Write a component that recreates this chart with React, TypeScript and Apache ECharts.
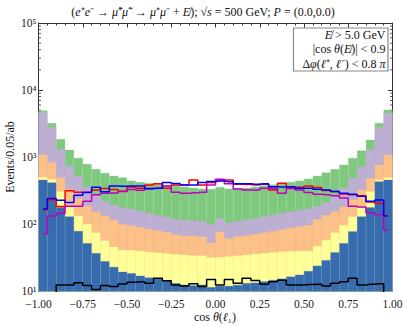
import React, { useEffect, useRef } from "react";
import * as echarts from "echarts";

// 40 bins of cos(theta) from -1 to 1 (width 0.05)
const binCenters: string[] = Array.from({ length: 40 }, (_, i) => (-0.975 + 0.05 * i).toFixed(3));
const xTickValues = [-1, -0.75, -0.5, -0.25, 0, 0.25, 0.5, 0.75, 1];
const xTickLabels = ["−1.00", "−0.75", "−0.50", "−0.25", "0.00", "0.25", "0.50", "0.75", "1.00"];
const yTickValues = [10, 100, 1000, 10000, 100000];
const yTickLabels = ["10¹", "10²", "10³", "10⁴", "10⁵"];

// Stacked histogram, cumulative heights (top of each layer), events / 0.05 / ab
const greenTop = [4950, 3214, 1858, 1285, 966, 787, 663, 577, 526, 496, 445, 425, 410, 395, 385, 375, 362, 348, 338, 335, 358, 338, 345, 350, 362, 375, 390, 405, 425, 445, 474, 526, 589, 663, 767, 966, 1255, 1812, 3214, 5080];
const purpleTop = [4630, 2806, 1315, 741, 520, 360, 275, 222, 195, 178, 168, 158, 146, 137, 128, 118, 115, 114, 112, 100, 123, 106, 111, 117, 121, 130, 138, 146, 154, 163, 170, 185, 210, 255, 345, 486, 725, 1285, 2806, 4540];
const orangeTop = [1081, 835, 496, 333, 241, 187, 154, 134, 116, 100, 95, 90, 85, 80, 76, 70, 67, 67, 65, 53, 77, 61, 66, 68, 71, 75, 79, 83, 88, 93, 97, 119, 137, 154, 183, 231, 325, 486, 767, 1081];
const yellowTop = [502, 470, 307, 183, 133, 100, 75, 57, 46, 41, 41, 40, 38.5, 37.5, 36.5, 35.5, 35, 34, 34, 32, 32, 33, 34, 35, 36, 37, 38, 39, 39.5, 40, 40, 47, 58, 75, 97, 130, 183, 307, 458, 496];
const blueTop = [458, 418, 179, 130, 79, 52, 37, 28, 23, 19.5, 18.5, 17, 16, 15.3, 14.5, 13.2, 12.5, 12.2, 12.5, 11.5, 12, 12, 12.4, 13.2, 13.4, 14, 14.7, 15.4, 16.5, 17.6, 20, 24, 29, 38, 52, 78, 130, 178, 433, 458];

// Overlaid step lines
const redLine = [165, 232, 183, 315, 300, 300, 325, 340, 330, 310, 360, 345, 383, 400, 345, 383, 383, 458, 383, 418, 458, 458, 395, 390, 385, 395, 325, 409, 355, 355, 372, 354, 317, 307, 282, 275, 265, 215, 205, 135];
const blueLine = [168, 242, 228, 210, 270, 298, 357, 305, 372, 368, 372, 372, 340, 345, 418, 405, 383, 383, 418, 433, 440, 430, 400, 400, 395, 400, 363, 360, 363, 345, 345, 333, 325, 307, 289, 280, 262, 220, 230, 133];
const magentaLine = [72, 133, 146, 185, 185, 220, 274, 289, 292, 307, 330, 320, 335, 345, 372, 300, 290, 295, 300, 383, 470, 400, 335, 325, 325, 345, 340, 289, 340, 325, 296, 280, 275, 265, 245, 185, 180, 148, 138, 82];
const blackLine = [8, 8, 12.4, 12.4, 13.4, 12.2, 10.6, 12.2, 11.8, 12.9, 13.6, 13.9, 13.2, 15.6, 14.4, 12.4, 12, 13, 11.8, 15, 12.4, 15, 13.2, 15.6, 14.5, 12.7, 13.9, 14.6, 12.4, 12.4, 12.6, 12.7, 12, 13.2, 13.9, 15.6, 12.4, 12.7, 13, 8];

const FONT = "Liberation Serif";
const FS = 12;
const TFS = 11.5;
const AXIS = "#333";

export default function App() {
  const ref = useRef<HTMLDivElement>(null);
  useEffect(() => {
    const chart = echarts.init(ref.current!, null, { renderer: "svg" });
    const barSeries = (name: string, data: number[], color: string) => ({
      type: "bar",
      name,
      data,
      xAxisIndex: 0,
      yAxisIndex: 0,
      barWidth: "100%",
      barGap: "-100%",
      silent: true,
      itemStyle: { color, borderColor: color, borderWidth: 0.3 },
    });
    const lineSeries = (name: string, data: number[], color: string) => ({
      type: "line",
      name,
      data,
      xAxisIndex: 0,
      yAxisIndex: 0,
      step: "middle",
      symbol: "none",
      clip: true,
      silent: true,
      lineStyle: { color, width: 1.5 },
      itemStyle: { color },
    });
    const valueX = (position: string, showLabel: boolean) => ({
      type: "value",
      position,
      min: -1,
      max: 1,
      interval: 0.25,
      axisLine: { show: true, onZero: false, lineStyle: { color: AXIS, width: 1 } },
      axisTick: { show: true, inside: true, length: 4.5, lineStyle: { color: AXIS } },
      minorTick: { show: true, splitNumber: 5, length: 2.5, lineStyle: { color: AXIS } },
      splitLine: { show: false },
      axisLabel: {
        show: showLabel,
        margin: 7.5,
        lineHeight: 10,
        fontFamily: FONT,
        fontSize: TFS,
        color: "#222",
        formatter: (v: number) => {
          const k = xTickValues.findIndex((t) => Math.abs(t - v) < 1e-9);
          return k >= 0 ? xTickLabels[k] : "";
        },
      },
    });
    const logY = (position: string, showLabel: boolean) => ({
      type: "log",
      logBase: 10,
      position,
      min: 10,
      max: 100000,
      axisLine: { show: true, onZero: false, lineStyle: { color: AXIS, width: 1 } },
      axisTick: { show: true, inside: true, length: 4.5, lineStyle: { color: AXIS } },
      splitLine: { show: false },
      axisLabel: {
        show: showLabel,
        margin: 2,
        lineHeight: 8,
        fontFamily: FONT,
        fontSize: TFS,
        color: "#222",
        formatter: (v: number) => {
          const k = yTickValues.findIndex((t) => Math.abs(Math.log10(t) - Math.log10(v)) < 1e-6);
          return k >= 0 ? yTickLabels[k] : "";
        },
      },
    });
    chart.setOption({
      animation: false,
      grid: { left: 38.5, right: 14.5, top: 23, bottom: 34.7, containLabel: false },
      xAxis: [
        { type: "category", data: binCenters, show: false, boundaryGap: true, position: "bottom" },
        valueX("bottom", true),
        valueX("top", false),
      ],
      yAxis: [logY("left", true), logY("right", false)],
      series: [
        barSeries("green", greenTop, "#7fc97f"),
        barSeries("purple", purpleTop, "#beaed4"),
        barSeries("orange", orangeTop, "#fdc086"),
        barSeries("yellow", yellowTop, "#ffff99"),
        barSeries("blue", blueTop, "#386cb0"),
        lineSeries("red", redLine, "#ff0000"),
        lineSeries("magenta", magentaLine, "#bf00bf"),
        lineSeries("blueLine", blueLine, "#0000ff"),
        lineSeries("black", blackLine, "#000000"),
      ],
    });

    // log minor ticks on left and right axes, positioned through the axis scale
    const xl = chart.convertToPixel({ xAxisIndex: 1 }, -1) as number;
    const xr = chart.convertToPixel({ xAxisIndex: 1 }, 1) as number;
    const minor: any[] = [];
    for (let d = 10; d < 100000; d *= 10) {
      for (let m = 2; m <= 9; m++) {
        const y = chart.convertToPixel({ yAxisIndex: 0 }, m * d) as number;
        minor.push({ type: "line", silent: true, shape: { x1: xl, y1: y, x2: xl + 2.5, y2: y }, style: { stroke: AXIS, lineWidth: 0.8 } });
        minor.push({ type: "line", silent: true, shape: { x1: xr, y1: y, x2: xr - 2.5, y2: y }, style: { stroke: AXIS, lineWidth: 0.8 } });
      }
    }
    const it = { fontStyle: "italic", fontFamily: FONT, fontSize: FS, fill: "#111" };
    const txt = (text: string, x: number, y: number, align: string, extra: any = {}) => ({
      type: "text",
      x,
      y,
      silent: true,
      ...extra,
      style: {
        text,
        align,
        verticalAlign: "middle",
        fontFamily: FONT,
        fontSize: FS,
        fill: "#111",
        rich: { i: it },
      },
    });
    chart.setOption({
      graphic: [
        ...minor,
        txt("({i|e}⁺{i|e}⁻ → {i|μ̃}⁺{i|μ̃}⁻ → {i|μ}⁺{i|μ}⁻ + {i|E̸}); √{i|s} = 500 GeV; {i|P} = (0.0,0.0)", 203, 11.5, "center"),
        {
          type: "rect",
          silent: true,
          shape: { x: 293.5, y: 28, width: 94.5, height: 43 },
          style: { fill: "#fff", stroke: "#888", lineWidth: 1.2 },
        },
        txt("{i|E̸} > 5.0 GeV", 385.5, 34.5, "right"),
        txt("|cos {i|θ}({i|E̸})| < 0.9", 385.5, 49, "right"),
        txt("Δ{i|φ}({i|ℓ}⁺, {i|ℓ}⁻) < 0.8 {i|π}", 385.5, 63.5, "right"),
        txt("Events/0.05/ab", 10, 157, "center", { rotation: Math.PI / 2 }),
        txt("cos {i|θ}({i|ℓ}₁)", 215, 316.5, "center"),
      ],
    });
    return () => chart.dispose();
  }, []);
  return <div ref={ref} style={{ position: "absolute", left: 0, top: 0, width: 407, height: 326 }} />;
}
